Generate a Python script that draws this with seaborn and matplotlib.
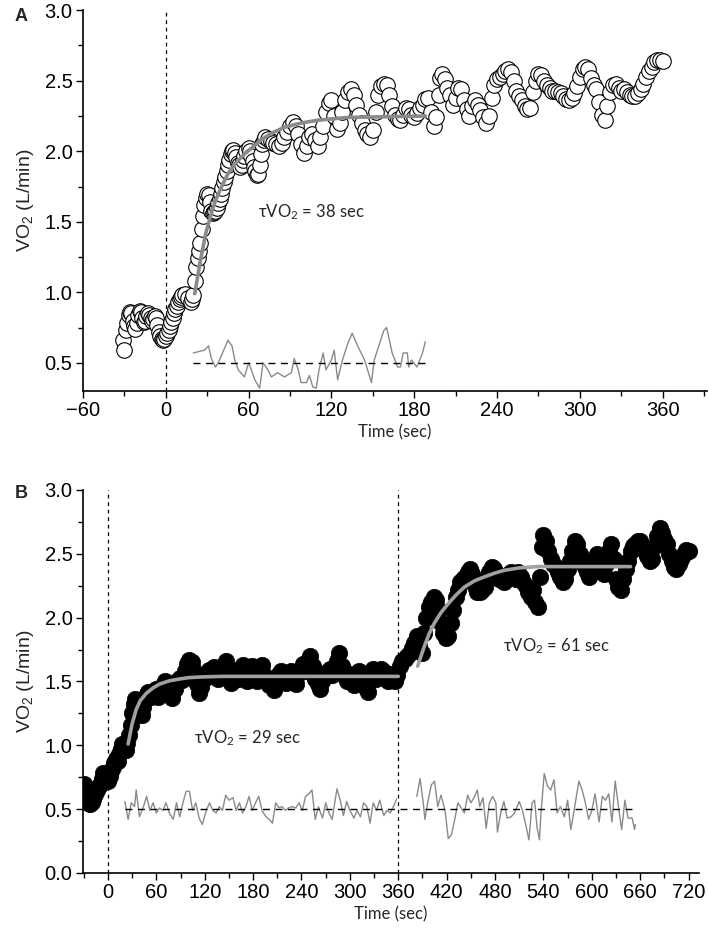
import numpy as np
import pandas as pd
import matplotlib
matplotlib.use("Agg")
import matplotlib.pyplot as plt
from matplotlib.ticker import MultipleLocator, FormatStrFormatter
import seaborn as sns

sns.set_style("ticks")
plt.rcParams['font.family'] = ['Liberation Sans', 'DejaVu Sans']
plt.rcParams['axes.unicode_minus'] = True

LABEL_FONT = ['Lato', 'DejaVu Sans']

# ---------------- Panel A (open circles) ----------------
a_time = [-31, -30, -29, -28, -27, -26, -25, -24, -23, -22, -21, -20, -19, -18, -17, -16, -15, -14,
          -13, -12, -11, -10, -9, -8, -7, -6, -5, -4, -3, -2, -1, 0, 1, 2, 3, 4, 5, 6, 7, 8, 9, 10,
          11, 12, 14, 16, 18, 19, 20, 21, 22, 23, 24, 25, 26, 27, 28, 29, 30, 31, 32, 33, 34, 35,
          36, 37, 38, 39, 40, 41, 42, 43, 44, 45, 46, 47, 48, 49, 50, 51, 52, 53, 54, 55, 56, 57,
          58, 60, 61, 62, 63, 64, 65, 66, 67, 68, 69, 70, 71, 72, 74, 76, 78, 80, 82, 84, 86, 88,
          90, 92, 94, 96, 98, 100, 102, 104, 106, 108, 110, 112, 114, 116, 118, 120, 122, 124, 126,
          128, 130, 132, 134, 136, 138, 140, 142, 144, 146, 148, 150, 152, 154, 156, 158, 160, 162,
          164, 166, 168, 170, 172, 174, 176, 178, 180, 182, 184, 186, 188, 190, 192, 194, 196, 198,
          199, 200, 202, 204, 206, 208, 210, 212, 214, 216, 218, 220, 222, 224, 226, 228, 230, 232,
          234, 236, 238, 240, 242, 244, 246, 248, 250, 252, 254, 256, 258, 260, 262, 264, 266, 268,
          270, 272, 274, 276, 278, 280, 282, 284, 286, 288, 290, 292, 294, 296, 298, 300, 302, 304,
          306, 308, 310, 312, 314, 316, 318, 320, 322, 324, 326, 328, 330, 332, 334, 336, 338, 340,
          342, 344, 346, 348, 350, 352, 354, 356, 358, 360]
a_vo2 = [0.66, 0.59, 0.73, 0.78, 0.84, 0.86, 0.85, 0.80, 0.76, 0.74, 0.78, 0.84, 0.87, 0.86, 0.82,
         0.79, 0.80, 0.83, 0.85, 0.84, 0.82, 0.80, 0.81, 0.83, 0.82, 0.77, 0.72, 0.69, 0.67, 0.66,
         0.67, 0.69, 0.71, 0.73, 0.76, 0.79, 0.82, 0.85, 0.88, 0.90, 0.93, 0.95, 0.97, 0.98, 0.99,
         0.96, 0.93, 0.95, 0.98, 1.08, 1.18, 1.24, 1.29, 1.35, 1.45, 1.54, 1.62, 1.67, 1.70, 1.69,
         1.64, 1.58, 1.56, 1.57, 1.58, 1.60, 1.63, 1.66, 1.70, 1.74, 1.78, 1.82, 1.86, 1.90, 1.94,
         1.98, 2.00, 2.01, 1.99, 1.96, 1.92, 1.90, 1.89, 1.90, 1.94, 1.97, 2.00, 2.02, 2.00, 1.97,
         1.93, 1.89, 1.86, 1.83, 1.84, 1.90, 1.98, 2.05, 2.08, 2.10, 2.09, 2.07, 2.06, 2.05, 2.04,
         2.06, 2.10, 2.14, 2.18, 2.21, 2.18, 2.12, 2.05, 1.99, 2.04, 2.10, 2.12, 2.08, 2.04, 2.10,
         2.18, 2.28, 2.34, 2.36, 2.25, 2.16, 2.20, 2.28, 2.36, 2.42, 2.44, 2.40, 2.33, 2.26, 2.20,
         2.15, 2.12, 2.10, 2.15, 2.28, 2.40, 2.46, 2.48, 2.47, 2.40, 2.32, 2.26, 2.23, 2.22, 2.26,
         2.31, 2.30, 2.26, 2.24, 2.27, 2.31, 2.33, 2.37, 2.38, 2.28, 2.18, 2.24, 2.40, 2.52, 2.55,
         2.51, 2.45, 2.40, 2.33, 2.38, 2.45, 2.44, 2.36, 2.30, 2.25, 2.32, 2.36, 2.33, 2.29, 2.24,
         2.20, 2.25, 2.38, 2.47, 2.51, 2.53, 2.55, 2.57, 2.58, 2.56, 2.50, 2.43, 2.39, 2.36, 2.32,
         2.30, 2.31, 2.42, 2.50, 2.55, 2.54, 2.50, 2.47, 2.45, 2.43, 2.43, 2.42, 2.41, 2.39, 2.37,
         2.36, 2.38, 2.41, 2.46, 2.53, 2.58, 2.60, 2.58, 2.52, 2.47, 2.44, 2.35, 2.26, 2.22, 2.32,
         2.42, 2.47, 2.48, 2.45, 2.43, 2.44, 2.42, 2.40, 2.39, 2.39, 2.41, 2.44, 2.48, 2.53, 2.57,
         2.60, 2.63, 2.65, 2.65, 2.64]

a_fit_time = [21, 25, 29, 33, 36, 40, 45, 50, 57, 63, 69, 77, 86, 98, 110, 132, 160, 188]
a_fit_vo2 = [0.99, 1.22, 1.42, 1.56, 1.65, 1.74, 1.84, 1.91, 1.98, 2.03, 2.08, 2.13, 2.17, 2.20,
             2.22, 2.24, 2.245, 2.25]

a_res_time = [20, 24, 28, 31, 33, 36, 38, 42, 45, 48, 50, 52.5, 57, 60, 62, 64.5, 68, 70.5, 74,
              76.5, 81, 86, 91, 93, 96, 98, 102, 104, 106.5, 109, 111, 114, 116, 120, 122, 124.5,
              128, 132, 135, 139, 144, 149, 151, 155, 158, 160, 164, 168, 170, 172, 175, 176, 178,
              182, 186, 188]
a_res_vo2 = [0.57, 0.58, 0.59, 0.62, 0.53, 0.47, 0.50, 0.59, 0.66, 0.62, 0.52, 0.45, 0.40, 0.50,
             0.45, 0.38, 0.32, 0.50, 0.45, 0.40, 0.43, 0.40, 0.43, 0.53, 0.45, 0.36, 0.36, 0.41,
             0.33, 0.32, 0.45, 0.57, 0.45, 0.52, 0.59, 0.38, 0.52, 0.64, 0.71, 0.62, 0.52, 0.36,
             0.52, 0.64, 0.73, 0.75, 0.57, 0.47, 0.47, 0.57, 0.57, 0.47, 0.52, 0.47, 0.57, 0.65]
a_res_base = [20, 190]

# ---------------- Panel B (filled circles) ----------------
b_time = [-30, -28, -26, -24, -22, -20, -18, -16, -14, -12, -10, -8, -6, -4, -2, 0, 2, 4, 6, 8, 10,
          12, 14, 16, 18, 20, 22, 24, 26, 28, 30, 32, 34, 36, 38, 40, 42, 44, 46, 48, 50, 53, 56,
          59, 62, 65, 68, 71, 74, 77, 80, 83, 86, 89, 92, 95, 98, 101, 104, 107, 110, 113, 116,
          119, 122, 125, 128, 131, 134, 137, 140, 143, 146, 149, 152, 155, 158, 161, 164, 167, 170,
          173, 176, 179, 182, 185, 188, 191, 194, 197, 200, 203, 206, 209, 212, 215, 218, 221, 224,
          227, 230, 233, 236, 239, 242, 245, 248, 251, 254, 257, 260, 263, 266, 269, 272, 275, 278,
          281, 284, 287, 290, 293, 296, 299, 302, 305, 308, 311, 314, 317, 320, 323, 326, 329, 332,
          335, 338, 341, 344, 347, 350, 353, 356, 359, 362, 365, 368, 371, 374, 377, 380, 383, 386,
          389, 392, 395, 398, 401, 404, 407, 410, 413, 416, 419, 422, 425, 428, 431, 434, 437, 440,
          443, 446, 449, 452, 455, 458, 461, 464, 467, 470, 473, 476, 479, 482, 485, 488, 491, 494,
          497, 500, 503, 506, 509, 512, 515, 518, 521, 524, 527, 530, 533, 536, 538, 540, 543, 546,
          549, 552, 555, 558, 561, 564, 567, 570, 573, 576, 579, 582, 585, 588, 591, 594, 597, 600,
          603, 606, 609, 612, 615, 618, 621, 624, 627, 630, 633, 636, 639, 642, 645, 648, 651, 654,
          657, 660, 663, 666, 669, 672, 675, 678, 681, 684, 687, 690, 693, 696, 699, 702, 705, 708,
          711, 714, 717, 720]
b_vo2 = [0.70, 0.66, 0.60, 0.55, 0.54, 0.56, 0.58, 0.62, 0.65, 0.67, 0.69, 0.74, 0.78, 0.75, 0.73,
         0.72, 0.76, 0.80, 0.83, 0.86, 0.89, 0.88, 0.93, 0.97, 1.01, 0.98, 0.96, 1.02, 1.08, 1.16,
         1.25, 1.32, 1.36, 1.33, 1.29, 1.26, 1.24, 1.30, 1.37, 1.40, 1.42, 1.38, 1.40, 1.44, 1.38,
         1.43, 1.47, 1.50, 1.46, 1.42, 1.37, 1.44, 1.50, 1.53, 1.51, 1.58, 1.64, 1.67, 1.65, 1.58,
         1.48, 1.41, 1.46, 1.52, 1.55, 1.59, 1.54, 1.61, 1.58, 1.52, 1.56, 1.62, 1.66, 1.55, 1.49,
         1.53, 1.58, 1.52, 1.60, 1.63, 1.57, 1.50, 1.55, 1.62, 1.56, 1.50, 1.58, 1.63, 1.55, 1.52,
         1.47, 1.52, 1.43, 1.50, 1.56, 1.58, 1.52, 1.49, 1.55, 1.58, 1.53, 1.48, 1.56, 1.60, 1.64,
         1.58, 1.66, 1.70, 1.62, 1.52, 1.48, 1.44, 1.50, 1.57, 1.54, 1.60, 1.55, 1.58, 1.66, 1.72,
         1.62, 1.55, 1.50, 1.56, 1.52, 1.47, 1.56, 1.58, 1.52, 1.48, 1.45, 1.42, 1.55, 1.60, 1.52,
         1.56, 1.60, 1.58, 1.54, 1.50, 1.56, 1.52, 1.50, 1.55, 1.62, 1.66, 1.68, 1.70, 1.72, 1.76,
         1.80, 1.86, 1.78, 1.72, 1.88, 2.00, 2.08, 2.12, 2.16, 2.14, 2.06, 1.96, 1.88, 1.84, 1.86,
         1.96, 2.06, 2.16, 2.22, 2.28, 2.30, 2.32, 2.36, 2.38, 2.34, 2.25, 2.20, 2.20, 2.22, 2.24,
         2.30, 2.36, 2.40, 2.38, 2.34, 2.30, 2.32, 2.28, 2.30, 2.34, 2.36, 2.32, 2.30, 2.36, 2.32,
         2.28, 2.25, 2.20, 2.16, 2.22, 2.12, 2.08, 2.32, 2.55, 2.65, 2.60, 2.52, 2.46, 2.42, 2.40,
         2.36, 2.32, 2.28, 2.30, 2.38, 2.44, 2.52, 2.60, 2.58, 2.50, 2.44, 2.40, 2.36, 2.32, 2.36,
         2.45, 2.50, 2.44, 2.38, 2.34, 2.42, 2.52, 2.58, 2.46, 2.30, 2.24, 2.22, 2.30, 2.38, 2.44,
         2.52, 2.56, 2.58, 2.60, 2.60, 2.56, 2.52, 2.48, 2.44, 2.46, 2.56, 2.64, 2.70, 2.66, 2.62,
         2.58, 2.50, 2.44, 2.40, 2.38, 2.42, 2.46, 2.50, 2.53, 2.52]

b_fit1_time = [25, 30, 35, 40, 48, 56, 64, 76, 89, 100, 113, 140, 200, 280, 360]
b_fit1_vo2 = [1.01, 1.17, 1.28, 1.35, 1.41, 1.45, 1.48, 1.505, 1.52, 1.53, 1.535, 1.54, 1.54,
              1.54, 1.54]
b_fit2_time = [384, 392, 398, 405, 413, 422, 432, 442, 455, 467, 480, 491, 510, 533, 574, 610, 648]
b_fit2_vo2 = [1.62, 1.77, 1.87, 1.96, 2.04, 2.11, 2.18, 2.24, 2.29, 2.32, 2.35, 2.37, 2.39, 2.40,
              2.40, 2.40, 2.40]

b_res1_time = [21, 25, 29, 33, 35, 39, 44, 48, 52, 56, 60, 64, 68, 72, 76, 81, 85, 89, 93, 97, 101,
               105, 109, 113, 117, 122, 126, 130, 134, 138, 142, 146, 150, 155, 159, 163, 167,
               171, 175, 179, 183, 187, 191, 196, 200, 204, 208, 212, 216, 220, 224, 228, 233,
               237, 241, 245, 249, 253, 257, 261, 266, 270, 274, 278, 284, 288, 292, 296, 300,
               305, 309, 313, 317, 321, 325, 329, 333, 337, 342, 346, 350, 354, 358]
b_res1_vo2 = [0.56, 0.42, 0.55, 0.52, 0.65, 0.44, 0.52, 0.60, 0.49, 0.55, 0.47, 0.51, 0.49, 0.55,
              0.47, 0.42, 0.55, 0.44, 0.55, 0.64, 0.64, 0.49, 0.55, 0.43, 0.38, 0.49, 0.55, 0.49,
              0.47, 0.52, 0.49, 0.61, 0.57, 0.59, 0.49, 0.55, 0.47, 0.52, 0.60, 0.49, 0.55, 0.60,
              0.49, 0.44, 0.42, 0.39, 0.55, 0.51, 0.52, 0.49, 0.51, 0.52, 0.51, 0.55, 0.49, 0.60,
              0.62, 0.65, 0.42, 0.52, 0.43, 0.55, 0.47, 0.42, 0.66, 0.57, 0.45, 0.56, 0.49, 0.43,
              0.49, 0.44, 0.55, 0.52, 0.39, 0.55, 0.49, 0.57, 0.45, 0.49, 0.47, 0.52, 0.58]
b_res2_time = [383, 387, 391, 393, 397, 401, 405, 409, 413, 418, 422, 426, 430, 434, 438, 442, 446,
               450, 454, 458, 461, 465, 469, 473, 477, 481, 483, 487, 491, 495, 500, 504, 510, 514,
               518, 522, 526, 529, 532, 535, 537, 541, 545, 549, 553, 557, 561, 566, 570, 574, 578,
               584, 588, 592, 596, 600, 604, 609, 613, 617, 621, 625, 629, 633, 637, 641, 645, 650,
               653, 654]
b_res2_vo2 = [0.60, 0.74, 0.55, 0.42, 0.57, 0.69, 0.72, 0.52, 0.61, 0.49, 0.27, 0.30, 0.42, 0.55,
              0.51, 0.47, 0.61, 0.55, 0.59, 0.65, 0.52, 0.59, 0.35, 0.55, 0.60, 0.55, 0.32, 0.47,
              0.56, 0.43, 0.44, 0.47, 0.56, 0.49, 0.38, 0.26, 0.55, 0.57, 0.36, 0.26, 0.47, 0.78,
              0.68, 0.65, 0.73, 0.47, 0.52, 0.44, 0.57, 0.34, 0.49, 0.72, 0.65, 0.55, 0.42, 0.49,
              0.62, 0.40, 0.60, 0.57, 0.62, 0.40, 0.72, 0.52, 0.34, 0.57, 0.43, 0.43, 0.34, 0.38]
b_res_base = [21, 652]
b_onsets = [0, 360]


def style_axes(ax):
    ax.xaxis.set_major_locator(MultipleLocator(60))
    ax.xaxis.set_minor_locator(MultipleLocator(30))
    ax.yaxis.set_major_locator(MultipleLocator(0.5))
    ax.yaxis.set_minor_locator(MultipleLocator(0.25))
    ax.yaxis.set_major_formatter(FormatStrFormatter('%.1f'))
    ax.tick_params(which='major', direction='out', length=5, width=1.0, labelsize=14.5,
                   colors='black', pad=2.5)
    ax.tick_params(which='minor', direction='out', length=3.5, width=1.0, colors='black')
    for s in ['top', 'right']:
        ax.spines[s].set_visible(False)
    for s in ['left', 'bottom']:
        ax.spines[s].set_linewidth(1.2)
        ax.spines[s].set_color('black')
    ax.set_xlabel('Time (sec)', fontsize=12, family=LABEL_FONT, labelpad=3)
    ax.set_ylabel('VO$\\mathregular{_2}$ (L/min)', fontsize=14, labelpad=6)
    ax.grid(False)


fig = plt.figure(figsize=(7.09, 9.31), dpi=100)
axA = fig.add_axes([0.117, 0.580, 0.880, 0.409])
axB = fig.add_axes([0.117, 0.0623, 0.869, 0.4114])

# Panel A
dfA = pd.DataFrame({'t': a_time, 'vo2': a_vo2})
axA.axvline(0, color='black', lw=0.9, ls=(0, (3, 3)), zorder=1)
sns.scatterplot(data=dfA, x='t', y='vo2', ax=axA, s=125, facecolor='white',
                edgecolor='black', linewidth=0.8, zorder=2)
sns.lineplot(x=a_fit_time, y=a_fit_vo2, ax=axA, color='#8a8a8a', lw=2.6, estimator=None,
             zorder=3)
sns.lineplot(x=a_res_time, y=a_res_vo2, ax=axA, color='#8a8a8a', lw=1.0, estimator=None,
             zorder=3)
sns.lineplot(x=a_res_base, y=[0.5, 0.5], ax=axA, color='black', lw=1.0, ls=(0, (5, 4)),
             estimator=None, zorder=3)
axA.set_xlim(-60, 392)
axA.set_ylim(0.3, 3.0)
style_axes(axA)
axA.text(67, 1.57, '\u03c4VO$\\mathregular{_2}$ = 38 sec', fontsize=12, family=LABEL_FONT,
         ha='left', va='center')
fig.text(0.021, 0.982, 'A', fontsize=13, fontweight='bold', ha='left', va='center')

# Panel B
dfB = pd.DataFrame({'t': b_time, 'vo2': b_vo2})
for x0 in b_onsets:
    axB.axvline(x0, color='black', lw=0.9, ls=(0, (3, 3)), zorder=1)
sns.scatterplot(data=dfB, x='t', y='vo2', ax=axB, s=140, color='black',
                edgecolor='black', linewidth=0.5, zorder=2)
sns.lineplot(x=b_fit1_time, y=b_fit1_vo2, ax=axB, color='#a0a0a0', lw=2.6, estimator=None,
             zorder=3)
sns.lineplot(x=b_fit2_time, y=b_fit2_vo2, ax=axB, color='#a0a0a0', lw=2.6, estimator=None,
             zorder=3)
sns.lineplot(x=b_res1_time, y=b_res1_vo2, ax=axB, color='#8a8a8a', lw=1.0, estimator=None,
             zorder=3)
sns.lineplot(x=b_res2_time, y=b_res2_vo2, ax=axB, color='#8a8a8a', lw=1.0, estimator=None,
             zorder=3)
sns.lineplot(x=b_res_base, y=[0.5, 0.5], ax=axB, color='black', lw=1.0, ls=(0, (5, 4)),
             estimator=None, zorder=3)
axB.set_xlim(-31, 733)
axB.set_ylim(0.0, 3.0)
style_axes(axB)
axB.text(107, 1.06, '\u03c4VO$\\mathregular{_2}$ = 29 sec', fontsize=12, family=LABEL_FONT,
         ha='left', va='center')
axB.text(490, 1.78, '\u03c4VO$\\mathregular{_2}$ = 61 sec', fontsize=12, family=LABEL_FONT,
         ha='left', va='center')
fig.text(0.021, 0.470, 'B', fontsize=13, fontweight='bold', ha='left', va='center')

fig.savefig('out.png', dpi=100)
